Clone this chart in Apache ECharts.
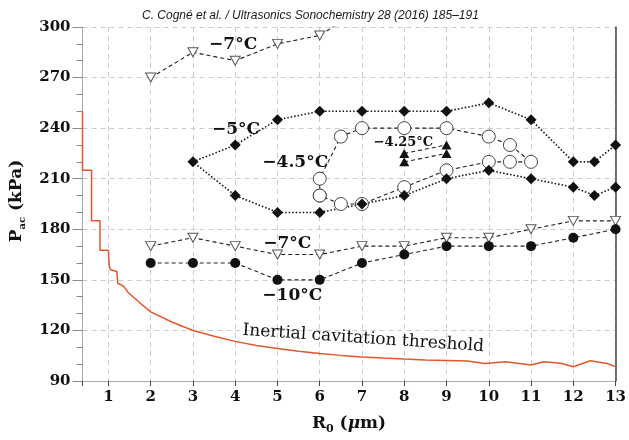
<!DOCTYPE html>
<html>
<head>
<meta charset="utf-8">
<script src="https://cdn.jsdelivr.net/npm/echarts@6/dist/echarts.min.js"></script>
<style>
    html, body { margin: 0; padding: 0; background: #fff; }
    #main { width: 629px; height: 440px; }
</style>
</head>
<body>
<div id="main"></div>
<script>
// -7°C, upper branch (open triangles)
const r0Minus7Top = [2, 3, 4, 5, 6, 7]
const pMinus7Top = [270, 285, 280, 290, 295, 311]
// -7°C, lower branch (open triangles)
const r0Minus7 = [2, 3, 4, 5, 6, 7, 8, 9, 10, 11, 12, 13]
const pMinus7 = [170, 175, 170, 165, 165, 170, 170, 175, 175, 180, 185, 185]
// -10°C (filled circles)
const r0Minus10 = [2, 3, 4, 5, 6, 7, 8, 9, 10, 11, 12, 13]
const pMinus10 = [160, 160, 160, 150, 150, 160, 165, 170, 170, 170, 175, 180]
// -5°C loop (filled diamonds): lower branch from 13 back to 3, then upper branch
const r0Minus5 = [13, 12.5, 12, 11, 10, 9, 8, 7, 6, 5, 4, 3, 4, 5, 6, 7, 8, 9, 10, 11, 12, 12.5, 13]
const pMinus5 = [205, 200, 205, 210, 215, 210, 200, 195, 190, 190, 200, 220, 230, 245, 250, 250, 250, 250, 255, 245, 220, 220, 230]
// -4.5°C loop (open circles)
const r0Minus45 = [6, 6, 6.5, 7, 8, 9, 10, 10.5, 11, 10.5, 10, 9, 8, 7, 6.5, 6]
const pMinus45 = [200, 210, 235, 240, 240, 240, 235, 230, 220, 220, 220, 215, 205, 195, 195, 200]
// -4.25°C (filled triangles), two short segments
const r0Minus425 = [8, 9]
const pMinus425a = [225, 230]
const pMinus425b = [220, 225]
// inertial cavitation threshold
const r0Threshold = [0.386, 0.386, 0.6, 0.6, 0.8, 0.8, 1.0, 1.02, 1.05, 1.2, 1.22, 1.3, 1.37, 1.45, 1.53, 1.65, 1.76, 2, 2.5, 3, 3.5, 4, 4.5, 5, 5.5, 6, 6.5, 7, 7.5, 8, 8.5, 9, 9.5, 9.9, 10.4, 11, 11.3, 11.7, 12, 12.4, 12.8, 13]
const pThreshold = [250, 215, 215, 185, 185, 167.5, 167.5, 158, 156, 155, 148, 147, 146, 143, 141, 138.5, 136, 131, 125, 120, 116.5, 113.5, 111, 109.3, 107.6, 106.3, 105.2, 104.3, 103.6, 103, 102.5, 102.2, 101.8, 100.4, 101.4, 99.5, 101.4, 100.5, 98.5, 102, 100.4, 98.5]

// text labels placed in data coordinates
const labelTexts = ['\u22127\u00b0C', '\u22125\u00b0C', '\u22124.5\u00b0C', '\u22124.25\u00b0C', '\u22127\u00b0C', '\u221210\u00b0C', 'Inertial cavitation threshold']
const labelR0 = [3.95, 4.02, 5.42, 7.98, 5.23, 5.35, 7.03]
const labelP = [289.3, 239.2, 219.7, 231.7, 171.7, 140.5, 115.2]

const pairs = (xs, ys) => xs.map((x, i) => [x, ys[i]])

const SERIF = 'DejaVu Serif'
const dashed = { color: '#222', width: 1.1, type: [4, 3] }
const dotted = { color: '#111', width: 1.6, type: [1.5, 2] }

const chart = echarts.init(document.getElementById('main'))

let option = {
    animation: false,
    title: {
        text: 'C. Cogn\u00e9 et al. / Ultrasonics Sonochemistry 28 (2016) 185\u2013191',
        left: 137,
        top: 5,
        textStyle: {
            fontFamily: 'Liberation Sans',
            fontStyle: 'italic',
            fontWeight: 'normal',
            fontSize: 12,
            color: '#1a1a1a',
        },
    },
    grid: { left: 82, right: 13, top: 27, bottom: 53 },
    xAxis: {
        type: 'value',
        min: 0.386,
        max: 13,
        minInterval: 1,
        maxInterval: 1,
        name: '{b|R}{s|0}{b| (}{i|\u03bc}{b|m)}',
        nameLocation: 'middle',
        nameGap: 32,
        nameTextStyle: {
            rich: {
                b: { fontFamily: SERIF, fontWeight: 'bold', fontSize: 17, color: '#111', lineHeight: 22 },
                i: { fontFamily: SERIF, fontWeight: 'bold', fontStyle: 'italic', fontSize: 17, color: '#111', lineHeight: 22 },
                s: { fontFamily: SERIF, fontWeight: 'bold', fontSize: 11, color: '#111', lineHeight: 11, verticalAlign: 'bottom' },
            },
        },
        axisLine: { lineStyle: { color: '#aaa', width: 1 } },
        axisTick: { show: true, length: 5, lineStyle: { color: '#444' } },
        axisLabel: {
            margin: 9,
            fontFamily: SERIF,
            fontWeight: 'bold',
            fontSize: 15,
            color: '#111',
            formatter: (v) => (Math.abs(v - Math.round(v)) < 1e-6 ? String(Math.round(v)) : ''),
        },
        splitLine: { show: true, lineStyle: { color: '#ccc', type: [5, 4] } },
    },
    yAxis: [
        {
            type: 'value',
            min: 90,
            max: 300,
            interval: 30,
            name: '{b|P}{s|ac}{b| (kPa)}',
            nameLocation: 'middle',
            nameRotate: 90,
            nameGap: 55,
            nameTextStyle: {
                padding: [0, 0, 0, 6],
                rich: {
                    b: { fontFamily: SERIF, fontWeight: 'bold', fontSize: 17, color: '#111', lineHeight: 22 },
                    s: { fontFamily: SERIF, fontWeight: 'bold', fontSize: 10, color: '#111', lineHeight: 10, verticalAlign: 'bottom' },
                },
            },
            axisLine: { show: true, lineStyle: { color: '#aaa', width: 1 } },
            axisTick: { show: true, length: 10, lineStyle: { color: '#888' } },
            minorTick: { show: true, splitNumber: 3, length: 6, lineStyle: { color: '#888' } },
            axisLabel: { margin: 12, fontFamily: SERIF, fontWeight: 'bold', fontSize: 15, color: '#111' },
            splitLine: { show: true, lineStyle: { color: '#ccc', type: [5, 4] } },
        },
        {
            // right frame line
            type: 'value',
            position: 'right',
            min: 90,
            max: 300,
            interval: 30,
            axisLine: { show: true, lineStyle: { color: '#444', width: 1.5 } },
            axisTick: { show: false },
            axisLabel: { show: false },
            splitLine: { show: false },
        },
    ],
    series: [
        {
            type: 'line',
            name: 'threshold',
            data: pairs(r0Threshold, pThreshold),
            showSymbol: false,
            lineStyle: { color: '#e5562b', width: 1.5 },
            z: 1,
        },
        {
            type: 'line',
            name: '-7 top',
            data: pairs(r0Minus7Top, pMinus7Top),
            symbol: 'triangle',
            symbolRotate: 180,
            symbolSize: [10, 9],
            itemStyle: { color: '#fff', borderColor: '#555', borderWidth: 1 },
            lineStyle: dashed,
        },
        {
            type: 'line',
            name: '-7',
            data: pairs(r0Minus7, pMinus7),
            symbol: 'triangle',
            symbolRotate: 180,
            symbolSize: [10, 9],
            itemStyle: { color: '#fff', borderColor: '#555', borderWidth: 1 },
            lineStyle: dashed,
        },
        {
            type: 'line',
            name: '-10',
            data: pairs(r0Minus10, pMinus10),
            symbol: 'circle',
            symbolSize: 10,
            itemStyle: { color: '#111' },
            lineStyle: dashed,
        },
        {
            type: 'line',
            name: '-4.5',
            data: pairs(r0Minus45, pMinus45),
            symbol: 'circle',
            symbolSize: 13,
            itemStyle: { color: '#fff', borderColor: '#444', borderWidth: 1 },
            lineStyle: dashed,
        },
        {
            type: 'line',
            name: '-5',
            data: pairs(r0Minus5, pMinus5),
            symbol: 'diamond',
            symbolSize: [11, 11],
            itemStyle: { color: '#111' },
            lineStyle: dotted,
        },
        {
            type: 'line',
            name: '-4.25a',
            data: pairs(r0Minus425, pMinus425a),
            symbol: 'triangle',
            symbolSize: [10, 9],
            itemStyle: { color: '#111' },
            lineStyle: dashed,
        },
        {
            type: 'line',
            name: '-4.25b',
            data: pairs(r0Minus425, pMinus425b),
            symbol: 'triangle',
            symbolSize: [10, 9],
            itemStyle: { color: '#111' },
            lineStyle: dashed,
        },
    ],
}
option.series.forEach((s) => {
    s.silent = true
    s.emphasis = { disabled: true }
})
chart.setOption(option)

// annotations, positioned through the axes
const labelSizes = [17, 17, 17, 13, 17, 17, 17]
const graphics = labelTexts.map((t, i) => {
    const pt = chart.convertToPixel({ xAxisIndex: 0, yAxisIndex: 0 }, [labelR0[i], labelP[i]])
    const isThreshold = i === labelTexts.length - 1
    return {
        type: 'text',
        x: pt[0],
        y: pt[1],
        rotation: isThreshold ? -0.068 : 0,
        z: 100,
        style: {
            text: t,
            fontFamily: SERIF,
            fontWeight: isThreshold ? 'normal' : 'bold',
            fontSize: labelSizes[i],
            fill: '#111',
            align: 'center',
            verticalAlign: 'middle',
        },
    }
})
chart.setOption({ graphic: graphics })
</script>
</body>
</html>
